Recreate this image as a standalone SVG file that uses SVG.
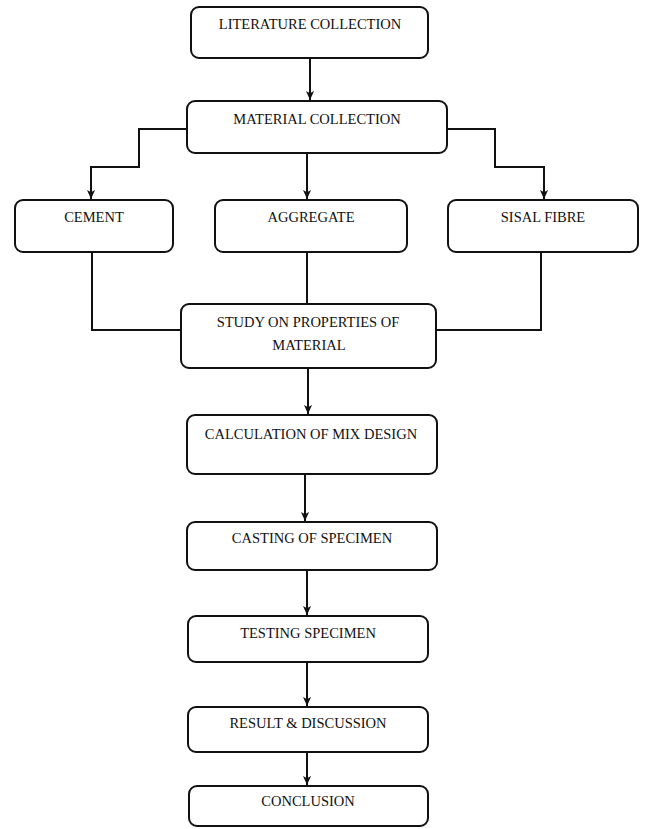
<svg xmlns="http://www.w3.org/2000/svg" width="645" height="829" viewBox="0 0 645 829">
<style>
.box{fill:#fff;stroke:#111;stroke-width:2}
.lbl{font-family:"Liberation Serif","Times New Roman",serif;font-size:14.5px;fill:#111;text-anchor:middle}
.con{fill:none;stroke:#111;stroke-width:2}
</style>
<defs>
<marker id="arr" viewBox="0 0 10 10" refX="10" refY="5" markerWidth="9" markerHeight="9" markerUnits="userSpaceOnUse" orient="auto">
<path d="M0,0.5 L10,5 L0,9.5 L2.5,5 z" fill="#111"/>
</marker>
</defs>
<rect width="645" height="829" fill="#fff"/>
<g id="connectors">
<path class="con" d="M310,58 V100" marker-end="url(#arr)"/>
<path class="con" d="M187,129 H139 V167 H91 V199" marker-end="url(#arr)"/>
<path class="con" d="M307,153 V199" marker-end="url(#arr)"/>
<path class="con" d="M447,129 H495 V167 H544 V199" marker-end="url(#arr)"/>
<path class="con" d="M92,252 V330 H181"/>
<path class="con" d="M307,252 V304"/>
<path class="con" d="M541,252 V330 H436"/>
<path class="con" d="M308,368 V414" marker-end="url(#arr)"/>
<path class="con" d="M305,474 V521" marker-end="url(#arr)"/>
<path class="con" d="M307,570 V615" marker-end="url(#arr)"/>
<path class="con" d="M307,662 V706" marker-end="url(#arr)"/>
<path class="con" d="M307,752 V785" marker-end="url(#arr)"/>
</g>
<g id="literature"><rect class="box" x="191" y="7" width="237" height="51" rx="8"/><text class="lbl" x="310" y="29">LITERATURE COLLECTION</text></g>
<g id="material"><rect class="box" x="187" y="101" width="260" height="52" rx="8"/><text class="lbl" x="317" y="124">MATERIAL COLLECTION</text></g>
<g id="cement"><rect class="box" x="15" y="200" width="158" height="52" rx="8"/><text class="lbl" x="94" y="222">CEMENT</text></g>
<g id="aggregate"><rect class="box" x="215" y="200" width="192" height="52" rx="8"/><text class="lbl" x="311" y="222">AGGREGATE</text></g>
<g id="sisal"><rect class="box" x="448" y="200" width="190" height="52" rx="8"/><text class="lbl" x="543" y="222">SISAL FIBRE</text></g>
<g id="study"><rect class="box" x="181" y="304" width="255" height="64" rx="8"/><text class="lbl" x="308" y="327">STUDY ON PROPERTIES OF</text><text class="lbl" x="309" y="350">MATERIAL</text></g>
<g id="calculation"><rect class="box" x="187" y="415" width="250" height="59" rx="8"/><text class="lbl" x="311" y="439">CALCULATION OF MIX DESIGN</text></g>
<g id="casting"><rect class="box" x="187" y="522" width="250" height="48" rx="8"/><text class="lbl" x="312" y="543">CASTING OF SPECIMEN</text></g>
<g id="testing"><rect class="box" x="188" y="616" width="240" height="46" rx="8"/><text class="lbl" x="308" y="638">TESTING SPECIMEN</text></g>
<g id="result"><rect class="box" x="188" y="707" width="240" height="45" rx="8"/><text class="lbl" x="308" y="728">RESULT &amp; DISCUSSION</text></g>
<g id="conclusion"><rect class="box" x="189" y="786" width="239" height="40" rx="8"/><text class="lbl" x="308" y="806">CONCLUSION</text></g>
</svg>
